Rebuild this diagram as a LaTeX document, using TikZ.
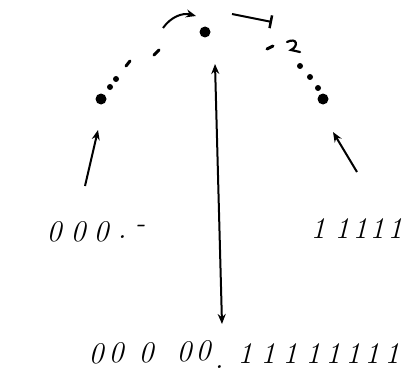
\documentclass[tikz,border=0pt]{standalone}
\usetikzlibrary{arrows.meta}
\begin{document}
\begin{tikzpicture}[x=1pt, y=-1pt,
        dot/.style={circle, fill, inner sep=0pt, minimum size=#1},
        bit/.style={line width=3pt, line cap=round},
        arrow/.style={-{Stealth[length=10pt, width=8pt]}, line width=2pt},
        digit/.style={font=\fontsize{30}{32}\selectfont\itshape, inner sep=0pt}
    ]
    \useasboundingbox (0,0) rectangle (403,377);

    % the arc of points
    \node[dot=11pt] (top) at (205,32) {};
    \node[dot=11pt] (left) at (101,99) {};
    \node[dot=11pt] (right) at (323,99) {};
    \foreach \x/\y [count=\i] in {110/87, 116/79, 300/66, 310/77, 318/88}
        \node[dot=6pt] (p\i) at (\x,\y) {};
    \draw[bit] (126,66) -- (130,61);
    \draw[bit] (154,55) -- (159,50);
    \draw[bit] (267,49) -- (273,46);
    \draw[line width=2.2pt, line cap=round] (287,42) .. controls (297,37) and (299,46) .. (291,50) -- (300,52);

    % arrows
    \coordinate (ca) at (163,28);
    \coordinate (cb) at (196,16);
    \coordinate (ba) at (232,14);
    \coordinate (bb) at (272,22);
    \coordinate (la) at (85,186);
    \coordinate (lb) at (98,130);
    \coordinate (ra) at (357,172);
    \coordinate (rb) at (333,132);
    \coordinate (ma) at (215,64);
    \coordinate (mb) at (222,324);
    \draw[arrow] (ca) to[bend left=35] (cb);
    \draw[line width=2pt, -{Bar[width=13pt, line width=2.5pt]}] (ba) -- (bb);
    \draw[arrow] (la) -- (lb);
    \draw[arrow] (ra) -- (rb);
    \draw[arrow, {Stealth[length=10pt, width=8pt]}-{Stealth[length=10pt, width=8pt]}] (ma) -- (mb);

    % the strings
    \foreach \c/\x/\y [count=\i] in {0/54/232, 0/78/232, 0/101/232, ./122/237, -/140/229}
        \node[digit] (l\i) at (\x,\y) {\c};
    \foreach \x [count=\i] in {318, 342, 360, 377, 395}
        \node[digit] (r\i) at (\x,229) {1};
    \foreach \c/\x/\y [count=\i] in {0/96/354, 0/116/353, 0/146/353, 0/184/352, 0/203/351, ./219/367}
        \node[digit] (b\i) at (\x,\y) {\c};
    \foreach \x [count=\i] in {245, 268, 290, 313, 333, 353, 372, 392}
        \node[digit] (o\i) at (\x,354) {1};
\end{tikzpicture}
\end{document}
